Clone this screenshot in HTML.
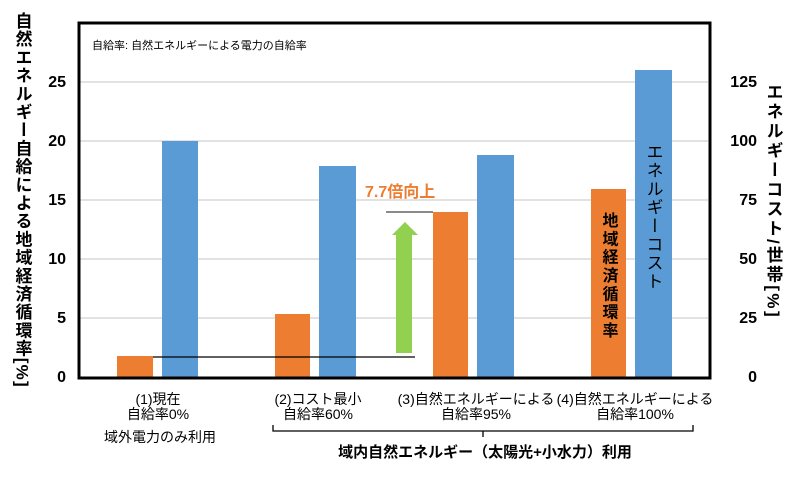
<!DOCTYPE html>
<html><head><meta charset="utf-8"><style>
body{margin:0;background:#fff;}
svg text{font-family:"Liberation Sans","Noto Sans CJK JP",sans-serif;}
</style></head><body>
<svg width="800" height="473" viewBox="0 0 800 473" xmlns="http://www.w3.org/2000/svg">
<g stroke="#d9d9d9" stroke-width="1.5">
<line x1="80" y1="82" x2="708" y2="82"/><line x1="80" y1="141" x2="708" y2="141"/>
<line x1="80" y1="200" x2="708" y2="200"/><line x1="80" y1="259" x2="708" y2="259"/>
<line x1="80" y1="318" x2="708" y2="318"/>
</g>
<g fill="#ed7d31">
<rect x="117" y="356" width="36" height="21"/><rect x="275" y="314" width="35" height="63"/>
<rect x="433" y="212" width="35" height="165"/><rect x="591" y="189" width="35" height="188"/>
</g>
<g fill="#5b9bd5">
<rect x="162" y="141" width="36" height="236"/><rect x="319" y="166" width="37" height="211"/>
<rect x="477" y="155" width="37" height="222"/><rect x="635" y="70" width="37" height="307"/>
</g>
<rect x="79" y="23" width="631" height="355" fill="none" stroke="#000" stroke-width="3"/>
<line x1="153" y1="357" x2="415" y2="357" stroke="#000" stroke-width="1.2"/>
<line x1="386" y1="212" x2="433" y2="212" stroke="#444" stroke-width="1.2"/>
<polygon points="396,353 412,353 412,235 418,235 405,222 392,235 396,235" fill="#92d050"/>
<text x="365" y="197" font-size="16" font-weight="bold" fill="#ed7d31">7.7倍向上</text>
<text x="92" y="49" font-size="11">自給率: 自然エネルギーによる電力の自給率</text>
<g font-size="16" font-weight="bold" text-anchor="end">
<text x="66" y="87">25</text><text x="66" y="146">20</text><text x="66" y="205">15</text>
<text x="66" y="264">10</text><text x="66" y="323">5</text><text x="66" y="382">0</text>
</g>
<g font-size="16" font-weight="bold" text-anchor="end">
<text x="757" y="87">125</text><text x="757" y="146">100</text><text x="757" y="205">75</text>
<text x="757" y="264">50</text><text x="757" y="323">25</text><text x="757" y="382">0</text>
</g>
<text x="22" y="12" font-size="17" font-weight="bold" style="writing-mode:vertical-rl" letter-spacing="1.2">自然エネルギー自給による地域経済循環率[%]</text>
<text x="773" y="83" font-size="17" font-weight="bold" style="writing-mode:vertical-rl" letter-spacing="2.5">エネルギーコスト/世帯[%]</text>
<text x="608" y="212" font-size="16" font-weight="bold" style="writing-mode:vertical-rl" letter-spacing="2.3">地域経済循環率</text>
<text x="653" y="143" font-size="17" style="writing-mode:vertical-rl" letter-spacing="1.5">エネルギーコスト</text>
<g font-size="14" text-anchor="middle">
<text x="158" y="404">(1)現在</text><text x="158" y="419">自給率0%</text>
<text x="160" y="442">域外電力のみ利用</text>
<text x="318" y="404">(2)コスト最小</text><text x="318" y="419">自給率60%</text>
<text x="476" y="404">(3)自然エネルギーによる</text><text x="476" y="419">自給率95%</text>
<text x="635" y="404">(4)自然エネルギーによる</text><text x="635" y="419">自給率100%</text>
</g>
<path d="M273,425 L273,431 L693,431 L693,425 M483,431 L483,437" fill="none" stroke="#000" stroke-width="1.3"/>
<text x="485" y="457" font-size="15" font-weight="bold" text-anchor="middle">域内自然エネルギー（太陽光+小水力）利用</text>
</svg>
</body></html>
